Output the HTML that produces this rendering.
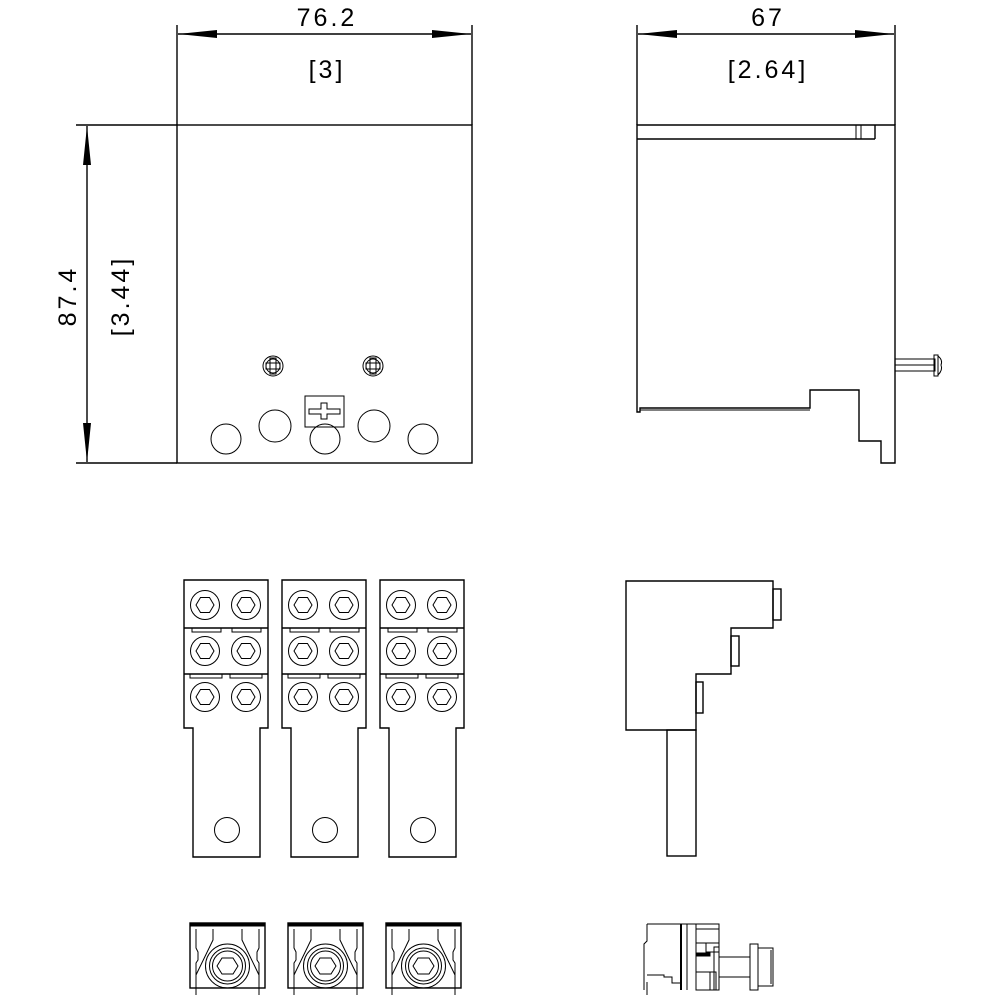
<!DOCTYPE html>
<html><head><meta charset="utf-8"><style>
html,body{margin:0;padding:0;background:#fff;}
svg{display:block;}
text{font-family:"Liberation Sans",sans-serif;font-weight:300;fill:#000;}
</style></head><body>
<svg width="1000" height="1000" viewBox="0 0 1000 1000" xmlns="http://www.w3.org/2000/svg">
<defs>
<g id="bolt" fill="none" stroke="#000" stroke-width="1">
  <circle r="14.5"/>
  <polygon points="-9,0 -4.5,-7.5 4.5,-7.5 9,0 4.5,7.5 -4.5,7.5"/>
</g>
<g id="busbar" fill="none" stroke="#000" stroke-width="1.4">
  <path d="M184,580 H268 V728 H260 V857 H193 V728 H184 Z"/>
  <line x1="184" y1="628" x2="268" y2="628"/>
  <line x1="184" y1="674" x2="268" y2="674"/>
  <rect x="192" y="628" width="29" height="4" stroke-width="1"/>
  <rect x="232" y="628" width="29" height="4" stroke-width="1"/>
  <rect x="190" y="674" width="32" height="4" stroke-width="1"/>
  <rect x="230" y="674" width="32" height="4" stroke-width="1"/>
  <use href="#bolt" x="205" y="605"/><use href="#bolt" x="246" y="605"/>
  <use href="#bolt" x="205" y="651"/><use href="#bolt" x="246" y="651"/>
  <use href="#bolt" x="205" y="697"/><use href="#bolt" x="246" y="697"/>
  <circle cx="227" cy="830" r="12.5" stroke-width="1"/>
</g>
<g id="clamp" fill="none" stroke="#000" stroke-width="1">
  <rect x="190" y="923" width="75" height="65" stroke-width="1.4"/>
  <rect x="190" y="923" width="75" height="3" fill="#000"/>
  <path d="M196,929 V948 L198,952 V960 L196,963 V988"/>
  <path d="M259,929 V948 L257,952 V960 L259,963 V988"/>
  <path d="M213,929 V940 L196,975"/>
  <path d="M242,929 V940 L259,975"/>
  <circle cx="227.5" cy="966" r="22"/>
  <circle cx="227.5" cy="966" r="18"/>
  <circle cx="227.5" cy="966" r="15"/>
  <polygon points="217,966 222,958 233,958 238,966 233,974 222,974"/>
  <line x1="196" y1="988" x2="196" y2="995"/>
  <line x1="259" y1="988" x2="259" y2="995"/>
</g>
</defs>

<g fill="none" stroke="#000" stroke-width="1.4">
  <rect x="177" y="125" width="295" height="338"/>
  <line x1="76" y1="125" x2="177" y2="125"/>
  <line x1="76" y1="463" x2="177" y2="463"/>
  <line x1="177" y1="25" x2="177" y2="125"/>
  <line x1="472" y1="25" x2="472" y2="125"/>
  <line x1="178" y1="34" x2="471" y2="34"/>
  <line x1="87" y1="126" x2="87" y2="462"/>
  <g stroke-width="1">
    <circle cx="226" cy="439" r="15"/>
    <circle cx="275" cy="426" r="16"/>
    <circle cx="325" cy="439" r="15"/>
    <circle cx="374" cy="426" r="16"/>
    <circle cx="423" cy="439" r="15"/>
    <rect x="305" y="396" width="39" height="31"/>
    <path d="M309,409 H321 V403 H327 V409 H340 V414 H327 V419 H321 V414 H309 Z"/>
    <g transform="translate(273,366)">
      <circle r="10"/><circle r="7"/><rect x="-7" y="-3" width="14" height="6"/><rect x="-3" y="-8" width="6" height="16"/>
    </g>
    <g transform="translate(373,366)">
      <circle r="10"/><circle r="7"/><rect x="-7" y="-3" width="14" height="6"/><rect x="-3" y="-8" width="6" height="16"/>
    </g>
  </g>

  <line x1="637" y1="25" x2="637" y2="125"/>
  <line x1="895" y1="25" x2="895" y2="125"/>
  <line x1="638" y1="34" x2="894" y2="34"/>
  <path d="M637,125 H895 V463 H881 V441 H859 V390 H810 V408 H640 V412 H637 Z"/>
  <line x1="637" y1="139" x2="875" y2="139"/>
  <line x1="875" y1="125" x2="875" y2="139"/>
  <line x1="856" y1="125" x2="856" y2="139" stroke-width="1"/>
  <line x1="861" y1="125" x2="861" y2="139" stroke-width="1"/>
  <line x1="640" y1="410" x2="810" y2="410" stroke-width="1"/>
  <rect x="895" y="359" width="40" height="12" stroke-width="1"/>
  <line x1="895" y1="365" x2="935" y2="365" stroke-width="1"/>
  <rect x="934" y="355" width="4" height="21" stroke-width="1"/>
  <path d="M938,356 Q943,360 941,365 Q943,370 938,375" stroke-width="1"/>

  <path d="M626,581 H773 V628 H731 V674 H696 V730 H626 Z"/>
  <rect x="773" y="589" width="8" height="31"/>
  <rect x="731" y="636" width="8" height="30"/>
  <rect x="696" y="682" width="7" height="31"/>
  <rect x="667" y="730" width="29" height="126"/>

  <g stroke-width="1">
    <path d="M647,924 H719 V932"/>
    <path d="M647,924 V941 L644,944 V990"/>
    <line x1="681" y1="924" x2="681" y2="990" stroke-width="2"/>
    <line x1="687" y1="924" x2="687" y2="990"/>
    <line x1="696" y1="924" x2="696" y2="990"/>
    <rect x="696" y="929" width="23" height="14"/>
    <rect x="706" y="943" width="13" height="9"/>
    <rect x="696" y="953" width="14" height="3" fill="#000"/>
    <rect x="696" y="972" width="20" height="18"/>
    <rect x="710" y="972" width="4" height="18"/>
    <rect x="714" y="947" width="5" height="43"/>
    <path d="M647,975 H664 V977 H672 V983 H681"/>
    <line x1="719" y1="957" x2="750" y2="957"/>
    <line x1="719" y1="977" x2="750" y2="977"/>
    <rect x="750" y="944" width="8" height="46"/>
    <path d="M758,948 H773 V986 H758"/>
    <line x1="771" y1="950" x2="771" y2="984"/>
    <line x1="647" y1="982" x2="647" y2="995"/>
  </g>
</g>

<g fill="#000">
  <polygon points="178,34 217,30 217,38"/>
  <polygon points="471,34 432,30 432,38"/>
  <polygon points="638,34 677,30 677,38"/>
  <polygon points="894,34 855,30 855,38"/>
  <polygon points="87,126 83,165 91,165"/>
  <polygon points="87,462 83,423 91,423"/>
</g>

<use href="#busbar"/>
<use href="#busbar" x="98"/>
<use href="#busbar" x="196"/>
<use href="#clamp"/>
<use href="#clamp" x="98"/>
<use href="#clamp" x="196"/>

<g font-size="25" letter-spacing="3">
  <text x="327" y="26" text-anchor="middle">76.2</text>
  <text x="327" y="78" text-anchor="middle">[3]</text>
  <text x="768" y="26" text-anchor="middle">67</text>
  <text x="768" y="78" text-anchor="middle">[2.64]</text>
  <text x="0" y="0" text-anchor="middle" transform="translate(76,296) rotate(-90)">87.4</text>
  <text x="0" y="0" text-anchor="middle" transform="translate(129,296) rotate(-90)">[3.44]</text>
</g>
</svg>
</body></html>
